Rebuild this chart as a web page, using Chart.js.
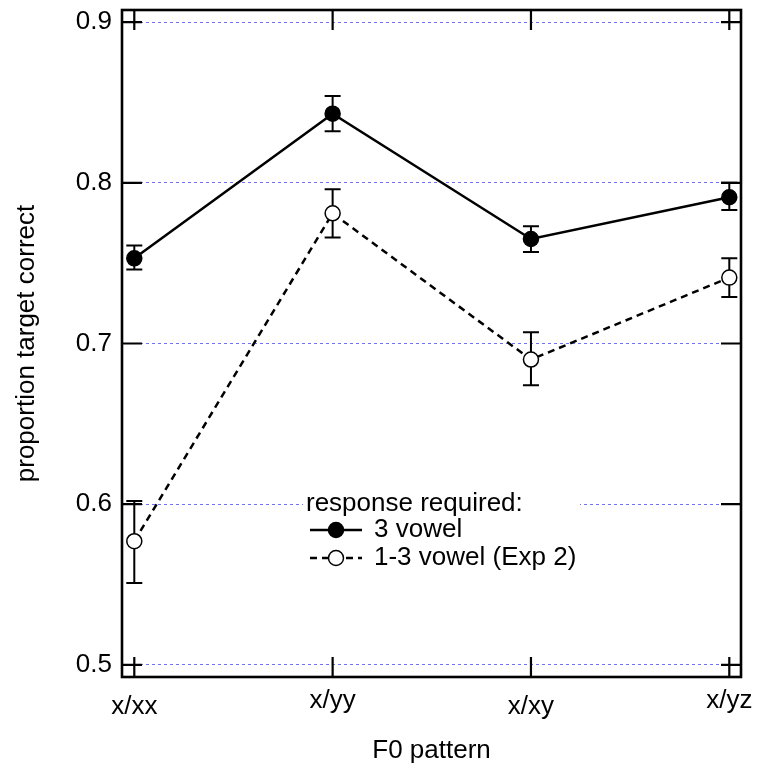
<!DOCTYPE html>
<html>
<head>
<meta charset="utf-8">
<script src="https://cdn.jsdelivr.net/npm/chart.js@4"></script>
<style>
  html, body { margin: 0; padding: 0; background: #fff; }
</style>
</head>
<body>
<canvas id="chart" width="758" height="771"></canvas>
<script>
// F0 pattern categories and tick values
const categories = ['x/xx', 'x/yy', 'x/xy', 'x/yz'];
const yTicks = [0.5, 0.6, 0.7, 0.8, 0.9];

// 3 vowel response
const threeVowel = [0.753, 0.843, 0.765, 0.791];
const threeVowelLow = [0.746, 0.832, 0.757, 0.783];
const threeVowelHigh = [0.761, 0.854, 0.773, 0.800];

// 1-3 vowel response (Exp 2)
const oneThreeVowel = [0.577, 0.781, 0.690, 0.741];
const oneThreeVowelLow = [0.551, 0.766, 0.674, 0.729];
const oneThreeVowelHigh = [0.602, 0.796, 0.707, 0.753];

const FONT = "'Liberation Sans', Arial, Helvetica, sans-serif";
const FONT_SIZE = 26;

function points(values, low, high) {
  return values.map((v, i) => ({ x: i, y: v, low: low[i], high: high[i] }));
}

// error bars under the markers
const errorBars = {
  id: 'errorBars',
  beforeDatasetsDraw(chart) {
    const { ctx, scales: { x, y } } = chart;
    ctx.save();
    ctx.strokeStyle = '#000';
    ctx.lineWidth = 2;
    ctx.setLineDash([]);
    chart.data.datasets.forEach(ds => {
      ds.data.forEach(p => {
        const px = x.getPixelForValue(p.x);
        const lo = y.getPixelForValue(p.low);
        const hi = y.getPixelForValue(p.high);
        ctx.beginPath();
        ctx.moveTo(px, lo); ctx.lineTo(px, hi);
        ctx.moveTo(px - 8, lo); ctx.lineTo(px + 8, lo);
        ctx.moveTo(px - 8, hi); ctx.lineTo(px + 8, hi);
        ctx.stroke();
      });
    });
    ctx.restore();
  }
};

// gnuplot style key inside the plot
const keyBox = {
  id: 'keyBox',
  beforeDatasetsDraw(chart) {
    const { ctx } = chart;
    const ds = chart.data.datasets;
    ctx.save();
    ctx.fillStyle = '#fff';
    ctx.fillRect(303, 490, 277, 85);
    ctx.fillStyle = '#000';
    ctx.font = FONT_SIZE + 'px ' + FONT;
    ctx.textBaseline = 'middle';
    ctx.textAlign = 'left';
    ctx.fillText('response required:', 306, 504);
    const rows = [530, 558];
    ds.forEach((d, i) => {
      const yy = rows[i];
      ctx.strokeStyle = '#000';
      ctx.lineWidth = d.borderWidth;
      ctx.setLineDash(d.borderDash || []);
      ctx.beginPath();
      ctx.moveTo(310, yy); ctx.lineTo(362, yy);
      ctx.stroke();
      ctx.setLineDash([]);
      ctx.beginPath();
      ctx.arc(336, yy, 7.5, 0, Math.PI * 2);
      ctx.fillStyle = d.pointBackgroundColor;
      ctx.fill();
      ctx.lineWidth = 1.5;
      ctx.stroke();
      ctx.fillStyle = '#000';
      ctx.fillText(d.label, 374, yy);
    });
    ctx.restore();
  }
};

// frame and inward ticks on all four sides
const frame = {
  id: 'frame',
  afterDraw(chart) {
    const { ctx, chartArea: a, scales: { x, y } } = chart;
    const len = 20;
    ctx.save();
    ctx.strokeStyle = '#000';
    ctx.lineWidth = 2.2;
    ctx.setLineDash([]);
    ctx.beginPath();
    categories.forEach((c, i) => {
      const px = x.getPixelForValue(i);
      ctx.moveTo(px, a.bottom); ctx.lineTo(px, a.bottom - len);
      ctx.moveTo(px, a.top); ctx.lineTo(px, a.top + len);
    });
    yTicks.forEach(v => {
      const py = y.getPixelForValue(v);
      ctx.moveTo(a.left, py); ctx.lineTo(a.left + len, py);
      ctx.moveTo(a.right, py); ctx.lineTo(a.right - len, py);
    });
    ctx.stroke();
    ctx.lineWidth = 2.6;
    ctx.strokeRect(a.left, a.top, a.right - a.left, a.bottom - a.top);
    ctx.restore();
  }
};

new Chart(document.getElementById('chart'), {
  type: 'line',
  data: {
    datasets: [
      {
        label: '3 vowel',
        data: points(threeVowel, threeVowelLow, threeVowelHigh),
        borderColor: '#000',
        borderWidth: 2.5,
        pointRadius: 7.5,
        pointBorderWidth: 1.5,
        pointBorderColor: '#000',
        pointBackgroundColor: '#000',
        tension: 0
      },
      {
        label: '1-3 vowel (Exp 2)',
        data: points(oneThreeVowel, oneThreeVowelLow, oneThreeVowelHigh),
        borderColor: '#000',
        borderWidth: 2.5,
        borderDash: [7, 5],
        pointRadius: 7.5,
        pointBorderWidth: 1.5,
        pointBorderColor: '#000',
        pointBackgroundColor: '#fff',
        tension: 0
      }
    ]
  },
  options: {
    responsive: false,
    animation: false,
    layout: { padding: { top: 10, right: 17, left: 0, bottom: 0 } },
    plugins: {
      legend: { display: false },
      tooltip: { enabled: false }
    },
    scales: {
      x: {
        type: 'linear',
        min: -0.062,
        max: 3.059,
        afterBuildTicks: s => { s.ticks = categories.map((c, i) => ({ value: i })); },
        afterFit: s => { s.height = 94; s.paddingLeft = 0; s.paddingRight = 0; },
        grid: { display: false, drawTicks: false },
        border: { display: false },
        ticks: {
          color: '#000',
          padding: 14,
          maxRotation: 0,
          font: ctx => ({ family: FONT, size: FONT_SIZE, lineHeight: ctx.index % 2 ? '19px' : '31px' }),
          callback: v => categories[v]
        },
        title: {
          display: true,
          text: 'F0 pattern',
          color: '#000',
          font: { family: FONT, size: FONT_SIZE },
          padding: { top: 0, bottom: 5 }
        }
      },
      y: {
        min: 0.4925,
        max: 0.9075,
        afterBuildTicks: s => { s.ticks = yTicks.map(v => ({ value: v })); },
        afterFit: s => { s.width = 122; s.paddingTop = 0; s.paddingBottom = 0; },
        grid: {
          color: '#7070ff',
          lineWidth: 1,
          drawTicks: false
        },
        border: { display: false, dash: [3, 3] },
        ticks: {
          color: '#000',
          padding: 10,
          font: { family: FONT, size: FONT_SIZE },
          callback: v => v.toFixed(1)
        },
        title: {
          display: true,
          text: 'proportion target correct',
          color: '#000',
          font: { family: FONT, size: FONT_SIZE },
          padding: { top: 11, bottom: 0 }
        }
      }
    }
  },
  plugins: [errorBars, keyBox, frame]
});
</script>
</body>
</html>
